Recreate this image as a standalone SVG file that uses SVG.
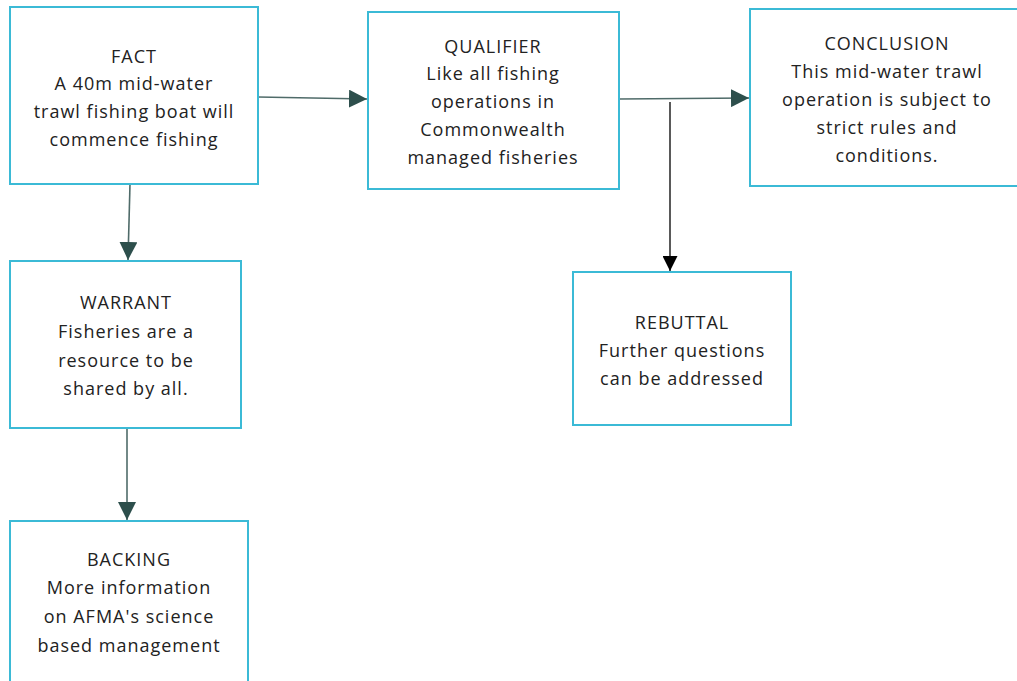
<svg xmlns="http://www.w3.org/2000/svg" width="1017" height="681" viewBox="0 0 1017 681">
  <style>
    .box { fill: #ffffff; stroke: #3bbad6; stroke-width: 2; }
    .lbl { font-family: "Open Sans", "DejaVu Sans", sans-serif; font-size: 18px; letter-spacing: 1px; fill: #222222; text-anchor: middle; }
    .link { fill: none; stroke: #4f6b69; stroke-width: 1.6; }
    .link-dark { fill: none; stroke: #000000; stroke-width: 1.3; }
  </style>
  <defs>
    <marker id="head" viewBox="0 0 10 10" refX="10" refY="5" markerWidth="18" markerHeight="18" markerUnits="userSpaceOnUse" orient="auto">
      <path d="M0,0 L10,5 L0,10 Z" fill="#2d4f4c"/>
    </marker>
    <marker id="head-black" viewBox="0 0 10 10" refX="10" refY="5" markerWidth="15" markerHeight="15" markerUnits="userSpaceOnUse" orient="auto">
      <path d="M0,0 L10,5 L0,10 Z" fill="#000000"/>
    </marker>
  </defs>
  <rect width="1017" height="681" fill="#ffffff"/>

  <g id="connectors">
    <path class="link" d="M258,97 L367,99" marker-end="url(#head)"/>
    <path class="link" d="M619,99 L749,98" marker-end="url(#head)"/>
    <path class="link" d="M130,184 L128,260" marker-end="url(#head)"/>
    <path class="link" d="M127,428 L127,520" marker-end="url(#head)"/>
    <path class="link-dark" d="M670,102 L670,271" marker-end="url(#head-black)"/>
  </g>

  <g id="fact">
    <rect class="box" x="10" y="7" width="248" height="177"/>
    <text class="lbl" x="134" y="63">FACT</text>
    <text class="lbl" x="134" y="90">A 40m mid-water</text>
    <text class="lbl" x="134" y="118">trawl fishing boat will</text>
    <text class="lbl" x="134" y="146">commence fishing</text>
  </g>

  <g id="qualifier">
    <rect class="box" x="368" y="12" width="251" height="177"/>
    <text class="lbl" x="493" y="53">QUALIFIER</text>
    <text class="lbl" x="493" y="80">Like all fishing</text>
    <text class="lbl" x="493" y="108">operations in</text>
    <text class="lbl" x="493" y="136">Commonwealth</text>
    <text class="lbl" x="493" y="164">managed fisheries</text>
  </g>

  <g id="conclusion">
    <rect class="box" x="750" y="9" width="275" height="177"/>
    <text class="lbl" x="887" y="50">CONCLUSION</text>
    <text class="lbl" x="887" y="78">This mid-water trawl</text>
    <text class="lbl" x="887" y="106">operation is subject to</text>
    <text class="lbl" x="887" y="134">strict rules and</text>
    <text class="lbl" x="887" y="162">conditions.</text>
  </g>

  <g id="warrant">
    <rect class="box" x="10" y="261" width="231" height="167"/>
    <text class="lbl" x="126" y="309">WARRANT</text>
    <text class="lbl" x="126" y="338">Fisheries are a</text>
    <text class="lbl" x="126" y="367">resource to be</text>
    <text class="lbl" x="126" y="395">shared by all.</text>
  </g>

  <g id="backing">
    <rect class="box" x="10" y="521" width="238" height="170"/>
    <text class="lbl" x="129" y="566">BACKING</text>
    <text class="lbl" x="129" y="594">More information</text>
    <text class="lbl" x="129" y="623">on AFMA's science</text>
    <text class="lbl" x="129" y="652">based management</text>
  </g>

  <g id="rebuttal">
    <rect class="box" x="573" y="272" width="218" height="153"/>
    <text class="lbl" x="682" y="329">REBUTTAL</text>
    <text class="lbl" x="682" y="357">Further questions</text>
    <text class="lbl" x="682" y="385">can be addressed</text>
  </g>
</svg>
